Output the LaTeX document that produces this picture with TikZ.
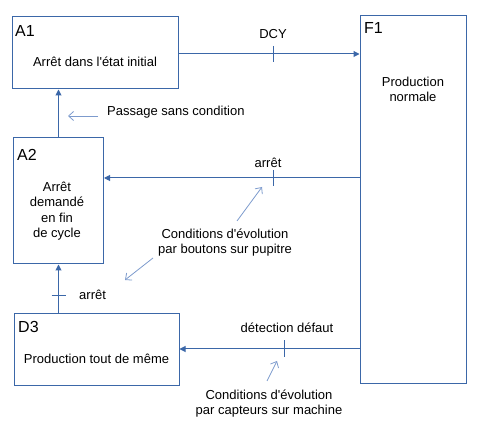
\documentclass[tikz,border=0pt]{standalone}
\usepackage{fontspec}
\setmainfont{Liberation Sans}
\usetikzlibrary{arrows.meta,calc}
\definecolor{boxblue}{RGB}{59,103,168}
\definecolor{lightblue}{RGB}{125,155,205}
\begin{document}
\begin{tikzpicture}[x=1pt,y=-1pt,
  stepbox/.style={draw=boxblue,line width=1pt,rectangle,inner sep=0pt},
  link/.style={draw=boxblue,line width=1pt,-{Triangle[length=6pt,width=6pt]}},
  tickmark/.style={draw=boxblue,line width=1pt},
  note/.style={draw=lightblue,line width=0.8pt,-{Straight Barb[length=5pt,width=9pt]}},
  txt/.style={font=\fontsize{13}{15}\selectfont,inner sep=0pt,anchor=base,text=black},
  big/.style={font=\fontsize{16}{18}\selectfont,inner sep=0pt,anchor=base west,text=black}]
\useasboundingbox (0,0) rectangle (480,430);
% steps
\node[stepbox,minimum width=166pt,minimum height=72pt] (A1) at (95,53) {};
\node[stepbox,minimum width=106pt,minimum height=368pt] (F1) at (413,200) {};
\node[stepbox,minimum width=90pt,minimum height=126pt] (A2) at (58.5,201) {};
\node[stepbox,minimum width=165pt,minimum height=72pt] (D3) at (96.5,350) {};
% step texts
\node[big] (tA1) at (15,37) {A1};
\node[txt] (sA1) at (95,67) {Arrêt dans l\textquotesingle état initial};
\node[big] (tF1) at (364,34) {F1};
\node[txt,align=center] (sF1) at (413,102) {Production\\normale};
\node[big] (tA2) at (17,161) {A2};
\node[txt,align=center,font=\fontsize{13}{15.5}\selectfont] (sA2) at (57,238) {Arrêt\\demandé\\en fin\\de cycle};
\node[big] (tD3) at (18,333) {D3};
\node[txt] (sD3) at (96.5,364) {Production tout de même};
% A1 -> F1
\coordinate (y1) at (0,54);
\draw[link] (A1.east |- y1) -- (F1.west |- y1);
\coordinate (k1) at (273,54);
\draw[tickmark] ($(k1)+(0,-8)$) -- ($(k1)+(0,8)$);
\node[txt] (lDCY) at (273,39) {DCY};
% F1 -> A2
\coordinate (y2) at (0,178);
\draw[link] (F1.west |- y2) -- (A2.east |- y2);
\coordinate (k2) at (273,178);
\draw[tickmark] ($(k2)+(0,-8)$) -- ($(k2)+(0,8)$);
\node[txt] (lArr1) at (268,168) {arrêt};
% A2 -> A1
\draw[link] (A2.north) -- (A2.north |- A1.south);
% D3 -> A2
\draw[link] (A2.south |- D3.north) -- (A2.south);
\coordinate (k3) at (58.5,296);
\draw[tickmark] ($(k3)+(-7,0)$) -- ($(k3)+(7,0)$);
\node[txt,anchor=base west] (lArr2) at (79,300) {arrêt};
% F1 -> D3
\coordinate (y3) at (0,349);
\draw[link] (F1.west |- y3) -- (D3.east |- y3);
\coordinate (k4) at (284,349);
\draw[tickmark] ($(k4)+(0,-8.5)$) -- ($(k4)+(0,8.5)$);
\node[txt] (lDef) at (287,333) {détection défaut};
% notes
\node[txt,anchor=base west] (nPass) at (107,116) {Passage sans condition};
\coordinate (p1) at (98,116);
\coordinate (p2) at (68,116);
\draw[note] (p1) -- (p2);
\node[txt,align=center] (nBout) at (225,254) {Conditions d\textquotesingle évolution\\par boutons sur pupitre};
\coordinate (b1) at (237,221);
\coordinate (b2) at (262,187);
\coordinate (b3) at (153,258);
\coordinate (b4) at (125,280);
\draw[note] (b1) -- (b2);
\draw[note] (b3) -- (b4);
\node[txt,align=center] (nCapt) at (269,415) {Conditions d\textquotesingle évolution\\par capteurs sur machine};
\coordinate (c1) at (267,381);
\coordinate (c2) at (277,361);
\draw[note] (c1) -- (c2);
\end{tikzpicture}
\end{document}
